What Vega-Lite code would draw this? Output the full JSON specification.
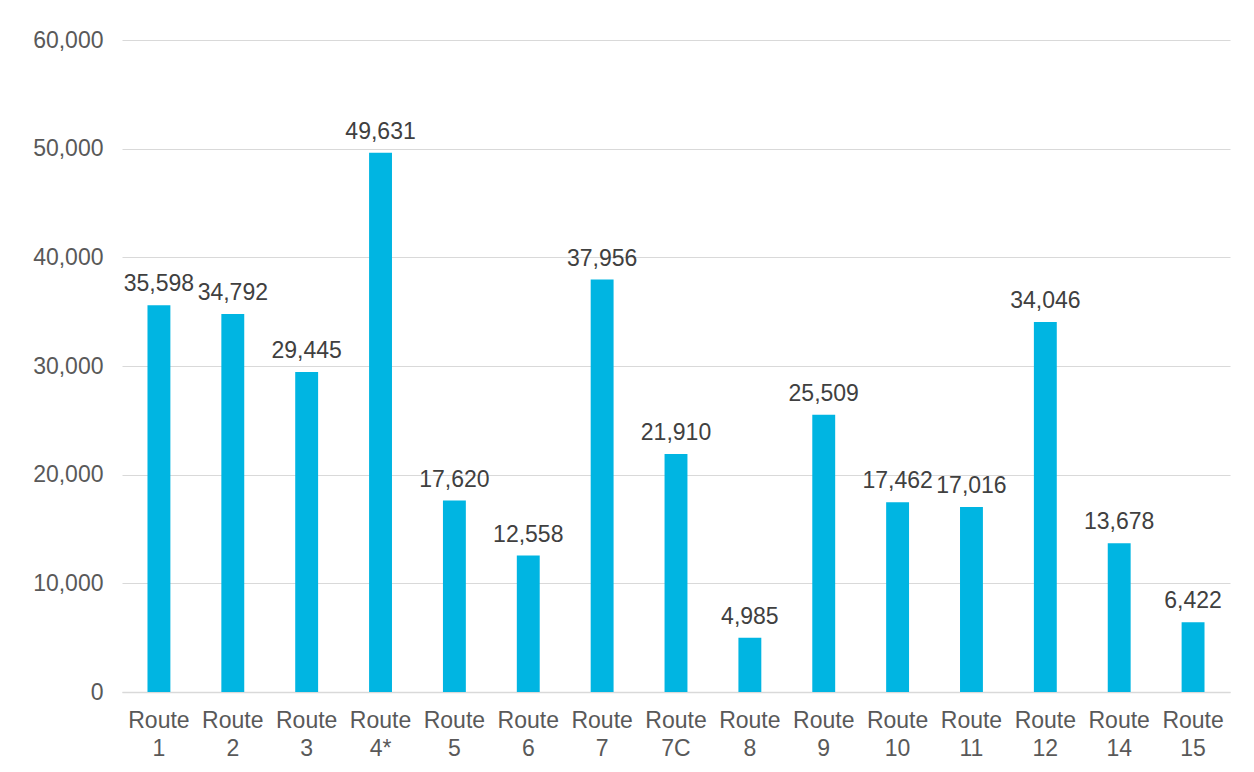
{
  "$schema": "https://vega.github.io/schema/vega-lite/v6.json",
  "autosize": {"type": "none"},
  "width": 1108,
  "height": 652,
  "padding": {"left": 122, "top": 40, "right": 24, "bottom": 80},
  "background": "white",
  "config": {
    "view": {"stroke": null},
    "font": "Liberation Sans"
  },
  "data": {
    "values": [
      {"route": "Route 1", "riders": 35598},
      {"route": "Route 2", "riders": 34792},
      {"route": "Route 3", "riders": 29445},
      {"route": "Route 4*", "riders": 49631},
      {"route": "Route 5", "riders": 17620},
      {"route": "Route 6", "riders": 12558},
      {"route": "Route 7", "riders": 37956},
      {"route": "Route 7C", "riders": 21910},
      {"route": "Route 8", "riders": 4985},
      {"route": "Route 9", "riders": 25509},
      {"route": "Route 10", "riders": 17462},
      {"route": "Route 11", "riders": 17016},
      {"route": "Route 12", "riders": 34046},
      {"route": "Route 14", "riders": 13678},
      {"route": "Route 15", "riders": 6422}
    ]
  },
  "encoding": {
    "x": {
      "field": "route",
      "type": "nominal",
      "sort": null,
      "scale": {"paddingInner": 0.69, "paddingOuter": 0.345},
      "axis": {
        "title": null,
        "labelAngle": 0,
        "labelExpr": "split(datum.label, ' ')",
        "labelFontSize": 23,
        "labelColor": "#595959",
        "labelLineHeight": 28,
        "labelPadding": 17,
        "ticks": false,
        "tickSize": 0,
        "domainColor": "#d9d9d9",
        "domainWidth": 1.5,
        "grid": false
      }
    },
    "y": {
      "field": "riders",
      "type": "quantitative",
      "scale": {"domain": [0, 60000]},
      "axis": {
        "title": null,
        "values": [0, 10000, 20000, 30000, 40000, 50000, 60000],
        "format": ",d",
        "labelFontSize": 23,
        "labelColor": "#595959",
        "labelPadding": 19,
        "ticks": false,
        "tickSize": 0,
        "domain": false,
        "gridColor": "#d9d9d9",
        "gridWidth": 1.2
      }
    }
  },
  "layer": [
    {"mark": {"type": "bar", "color": "#00B5E2"}},
    {
      "mark": {
        "type": "text",
        "baseline": "alphabetic",
        "dy": -14,
        "fontSize": 23,
        "color": "#404040"
      },
      "encoding": {
        "text": {"field": "riders", "type": "quantitative", "format": ",d"}
      }
    }
  ]
}
